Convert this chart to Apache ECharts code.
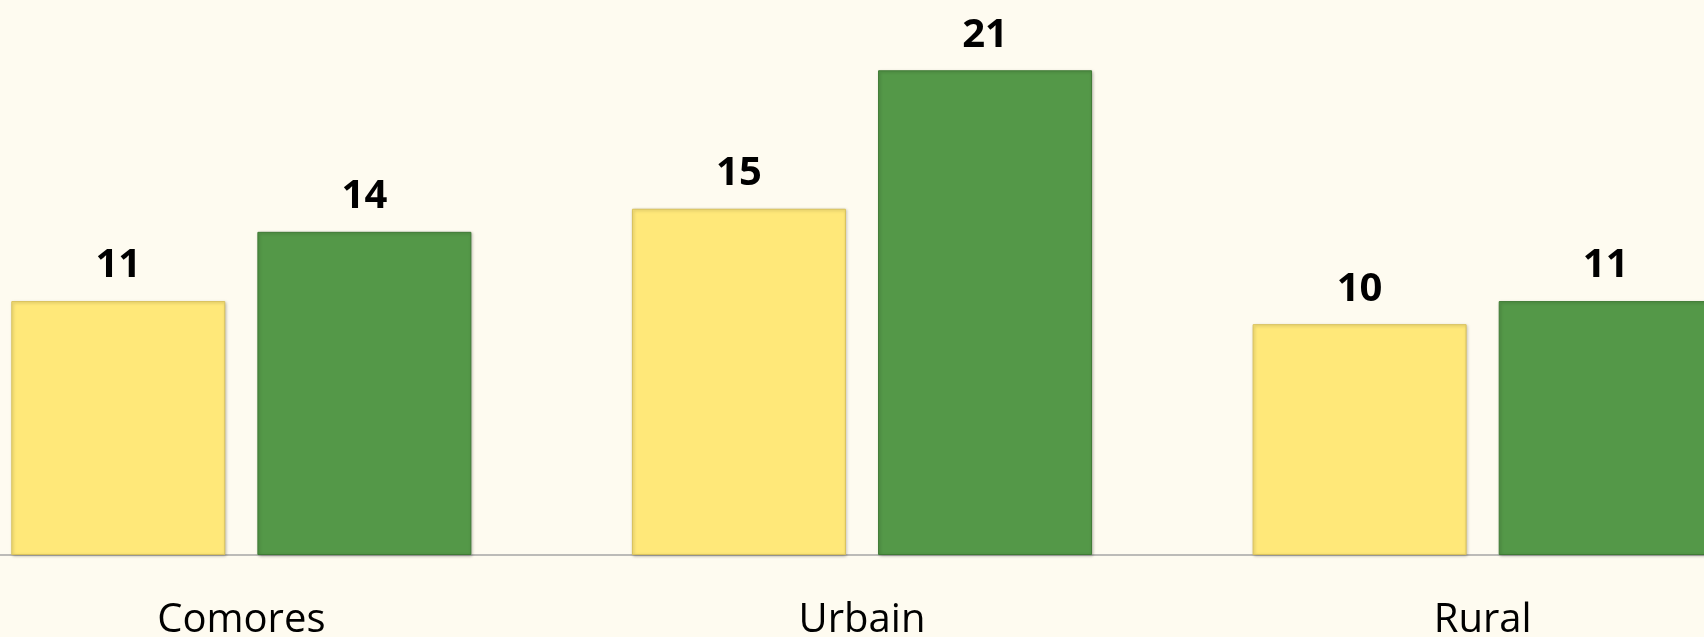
<!DOCTYPE html>
<html>
<head>
<meta charset="utf-8">
<script src="https://cdn.jsdelivr.net/npm/echarts@6/dist/echarts.min.js"></script>
<style>
    html, body { margin: 0; padding: 0; background: #fefbf0; overflow: hidden; }
    /* the plot is wider than the picture: first and last category are cut at the edges */
    #chart { width: 1862px; height: 637px; margin-left: -69px; }
</style>
</head>
<body>
<div id="chart"></div>
<script>
const categories = ['Comores', 'Urbain', 'Rural']
const serie1 = [11, 15, 10]
const serie2 = [14, 21, 11]

const chart = echarts.init(document.getElementById('chart'))

const barStyle = (color, border) => ({
    color: color,
    borderColor: border,
    borderWidth: 1,
    shadowColor: 'rgba(0,0,0,0.25)',
    shadowBlur: 3,
    shadowOffsetX: 1,
    shadowOffsetY: 1,
})

const valueLabel = {
    show: true,
    position: 'top',
    distance: 15,
    color: '#000',
    fontFamily: 'Open Sans',
    fontWeight: 'bold',
    fontSize: 40,
}

chart.setOption({
    backgroundColor: '#fefbf0',
    animation: false,
    grid: {
        top: 1,
        bottom: 82,
        left: 0,
        right: 0,
        outerBoundsMode: 'none',
    },
    xAxis: {
        type: 'category',
        data: categories,
        axisTick: { show: false },
        axisLine: {
            lineStyle: { color: '#a6a6a6', width: 1.5 },
        },
        axisLabel: {
            color: '#000',
            fontFamily: 'Open Sans',
            fontSize: 40,
            margin: 46,
        },
    },
    yAxis: {
        type: 'value',
        min: 0,
        max: 24,
        show: false,
        splitLine: { show: false },
    },
    series: [
        {
            name: 'Série 1',
            type: 'bar',
            barWidth: 214,
            barGap: '15%',
            itemStyle: barStyle('#ffe879', '#d9c25c'),
            label: valueLabel,
            data: serie1,
        },
        {
            name: 'Série 2',
            type: 'bar',
            barWidth: 214,
            barGap: '15%',
            itemStyle: barStyle('#549848', '#3f7a35'),
            label: valueLabel,
            data: serie2,
        },
    ],
})
</script>
</body>
</html>
